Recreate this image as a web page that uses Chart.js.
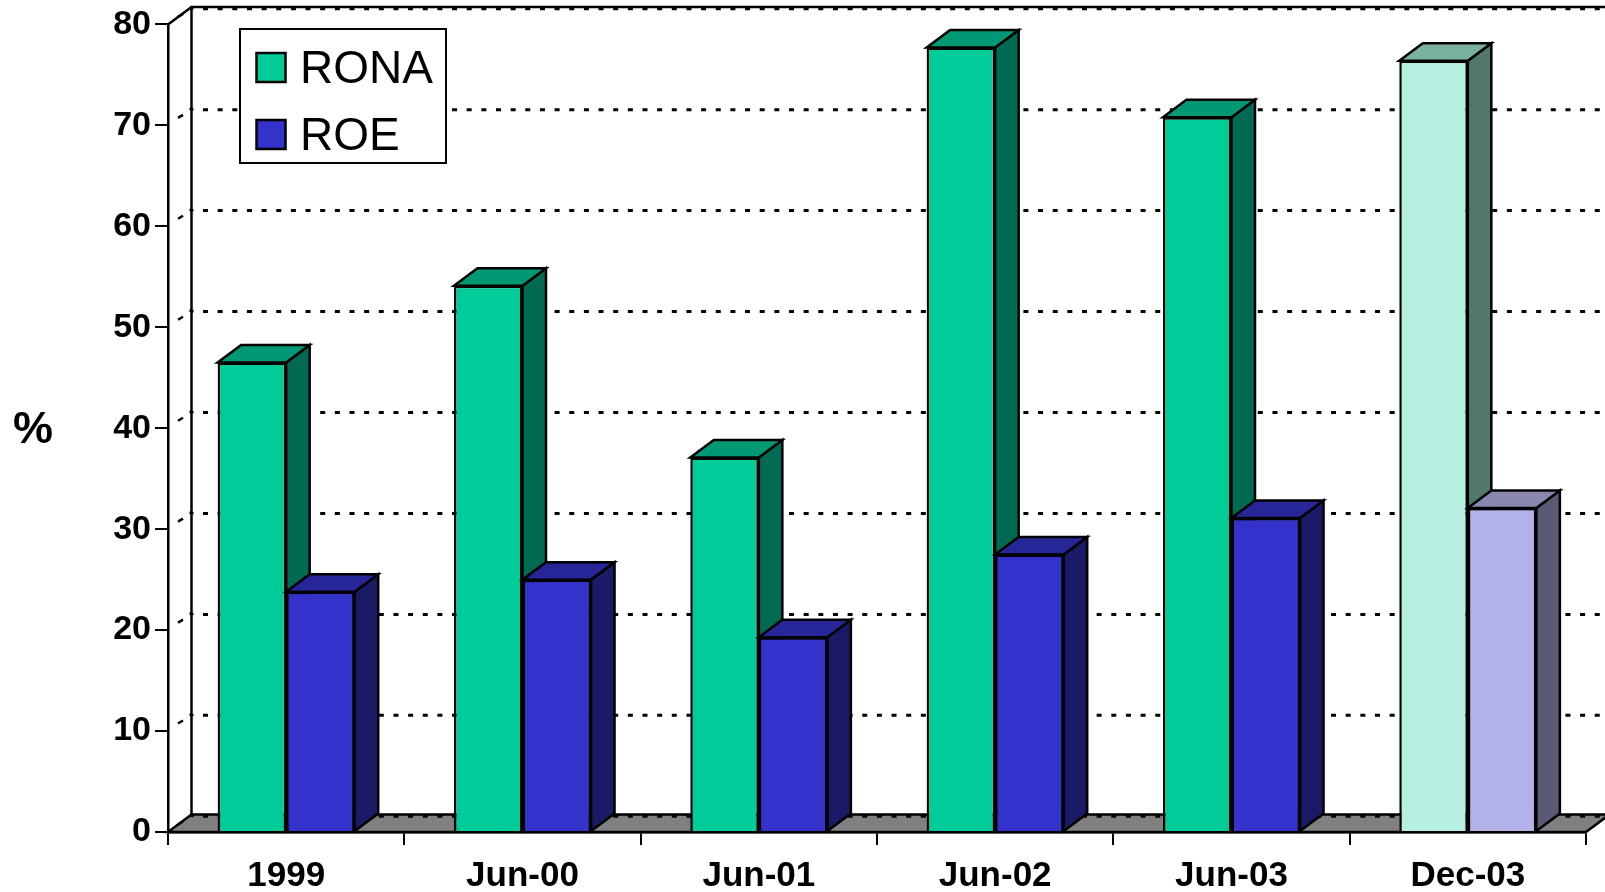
<!DOCTYPE html>
<html>
<head>
<meta charset="utf-8">
<style>html,body{margin:0;padding:0;background:#fff}canvas{display:block}</style>
<script src="https://cdn.jsdelivr.net/npm/chart.js@4/dist/chart.umd.min.js"></script>
</head>
<body>
<canvas id="c" width="1605" height="892"></canvas>
<script>
const categories = ['1999','Jun-00','Jun-01','Jun-02','Jun-03','Dec-03'];
const rona = [46.5,54.1,37.1,77.7,70.8,76.4];
const roe  = [23.8,25.0,19.3,27.5,31.1,32.1];
const ronaFront = ['#00CC99','#00CC99','#00CC99','#00CC99','#00CC99','#B5EFE0'];
const ronaTop   = ['#009973','#009973','#009973','#009973','#009973','#7AB2A2'];
const ronaSide  = ['#006B52','#006B52','#006B52','#006B52','#006B52','#52786D'];
const roeFront  = ['#3333CC','#3333CC','#3333CC','#3333CC','#3333CC','#B3B3EA'];
const roeTop    = ['#262699','#262699','#262699','#262699','#262699','#8888B0'];
const roeSide   = ['#1A1A66','#1A1A66','#1A1A66','#1A1A66','#1A1A66','#5A5A75'];
const yTicks = [0,10,20,30,40,50,60,70,80];

const DX = 23.5, DY = 17.5, GRID_DY = 15.7;

function poly(ctx, pts, fill){
  ctx.beginPath();
  pts.forEach((p,i)=> i ? ctx.lineTo(p[0],p[1]) : ctx.moveTo(p[0],p[1]));
  ctx.closePath();
  ctx.fillStyle = fill; ctx.fill();
  ctx.lineWidth = 2.5; ctx.strokeStyle = '#000'; ctx.lineJoin='miter'; ctx.stroke();
}
function faces(chart, index){
  const ctx = chart.ctx;
  const ds = chart.data.datasets[index];
  ctx.save();
  chart.getDatasetMeta(index).data.forEach((bar,i)=>{
    const p = bar.getProps(['x','y','base','width'],true);
    const l = p.x-p.width/2, r = p.x+p.width/2;
    poly(ctx,[[r,p.y],[r+DX,p.y-DY],[r+DX,p.base-DY],[r,p.base]],ds.sideColors[i]);
    poly(ctx,[[l,p.y],[l+DX,p.y-DY],[r+DX,p.y-DY],[r,p.y]],ds.topColors[i]);
  });
  ctx.restore();
}

const chart3d = {
  id:'chart3d',
  beforeDatasetsDraw(chart){
    const {ctx, chartArea:a, scales:{y}} = chart;
    const W = chart.width;
    ctx.save();
    // floor
    poly(ctx,[[a.left,a.bottom],[a.left+DX,a.bottom-DY],[a.right+DX,a.bottom-DY],[a.right,a.bottom]],'#808080');
    // back wall and top edge
    ctx.strokeStyle='#000'; ctx.lineWidth=2.5;
    ctx.beginPath();
    ctx.moveTo(a.left+DX,a.bottom-DY); ctx.lineTo(a.left+DX,a.top-DY);
    ctx.lineTo(W,a.top-DY);
    ctx.moveTo(a.left,a.top); ctx.lineTo(a.left+DX,a.top-DY);
    ctx.stroke();
    // dotted grid on the back wall, dotted marks on the side wall
    yTicks.forEach(t=>{
      const py = y.getPixelForValue(t);
      ctx.lineWidth=3; ctx.setLineDash([5,9.65]);
      ctx.beginPath(); ctx.moveTo(a.left+DX+11.5,py-GRID_DY); ctx.lineTo(W,py-GRID_DY); ctx.stroke();
      ctx.setLineDash([]);
      ctx.lineWidth=2.5;
      ctx.beginPath();
      ctx.moveTo(a.left+10,py-7.5); ctx.lineTo(a.left+15,py-10.5);
      ctx.moveTo(a.left+DX-2,py-GRID_DY-1); ctx.lineTo(a.left+DX+2,py-GRID_DY);
      ctx.stroke();
    });
    ctx.restore();
    faces(chart,0);
  },
  afterDatasetsDraw(chart){
    // second series sits in front of the first series' side face
    faces(chart,1);
    chart.getDatasetMeta(1).data.forEach(bar=>bar.draw(chart.ctx));
  },
  afterDraw(chart){
    const ctx = chart.ctx;
    ctx.save();
    // "%" axis caption
    ctx.fillStyle='#000'; ctx.font='bold 45px "Liberation Sans"';
    ctx.textAlign='center'; ctx.textBaseline='middle';
    ctx.fillText('%',33,431);
    // legend box
    ctx.fillStyle='#fff'; ctx.strokeStyle='#000'; ctx.lineWidth=2;
    ctx.fillRect(240,29,206,134); ctx.strokeRect(240,29,206,134);
    ctx.textAlign='left'; ctx.textBaseline='alphabetic';
    ctx.font='46px "Liberation Sans"';
    ctx.lineWidth=2.5;
    chart.data.datasets.forEach((ds,i)=>{
      const top = 53+i*67;
      ctx.fillStyle=ds.backgroundColor[0];
      ctx.fillRect(256.5,top,29,29); ctx.strokeRect(256.5,top,29,29);
      ctx.fillStyle='#000';
      ctx.fillText(ds.label,300,top+30);
    });
    ctx.restore();
  }
};

new Chart(document.getElementById('c'),{
  type:'bar',
  plugins:[chart3d],
  data:{
    labels:categories,
    datasets:[
      {label:'RONA',data:rona,backgroundColor:ronaFront,topColors:ronaTop,sideColors:ronaSide,
       borderColor:'#000',borderWidth:2.5,categoryPercentage:0.58,barPercentage:1},
      {label:'ROE',data:roe,backgroundColor:roeFront,topColors:roeTop,sideColors:roeSide,
       borderColor:'#000',borderWidth:2.5,categoryPercentage:0.58,barPercentage:1}
    ]
  },
  options:{
    responsive:false,
    animation:false,
    layout:{padding:{left:0,right:19,top:24,bottom:0}},
    plugins:{legend:{display:false},tooltip:{enabled:false},title:{display:false}},
    scales:{
      x:{
        afterFit(s){s.height=60;},
        grid:{drawOnChartArea:false,drawTicks:true,tickLength:13,color:'#000',lineWidth:2},
        border:{color:'#000',width:2.5},
        ticks:{color:'#000',padding:10,maxRotation:0,autoSkip:false,font:{family:'"Liberation Sans"',size:35,weight:'bold'}}
      },
      y:{
        min:0,max:80,
        afterFit(s){s.width=168;},
        afterBuildTicks(s){s.ticks=yTicks.map(v=>({value:v}));},
        grid:{drawOnChartArea:false,drawTicks:true,tickLength:13,color:'#000',lineWidth:2},
        border:{color:'#000',width:2.5},
        ticks:{color:'#000',padding:4,font:{family:'"Liberation Sans"',size:34,weight:'bold'}}
      }
    }
  }
});
</script>
</body>
</html>
